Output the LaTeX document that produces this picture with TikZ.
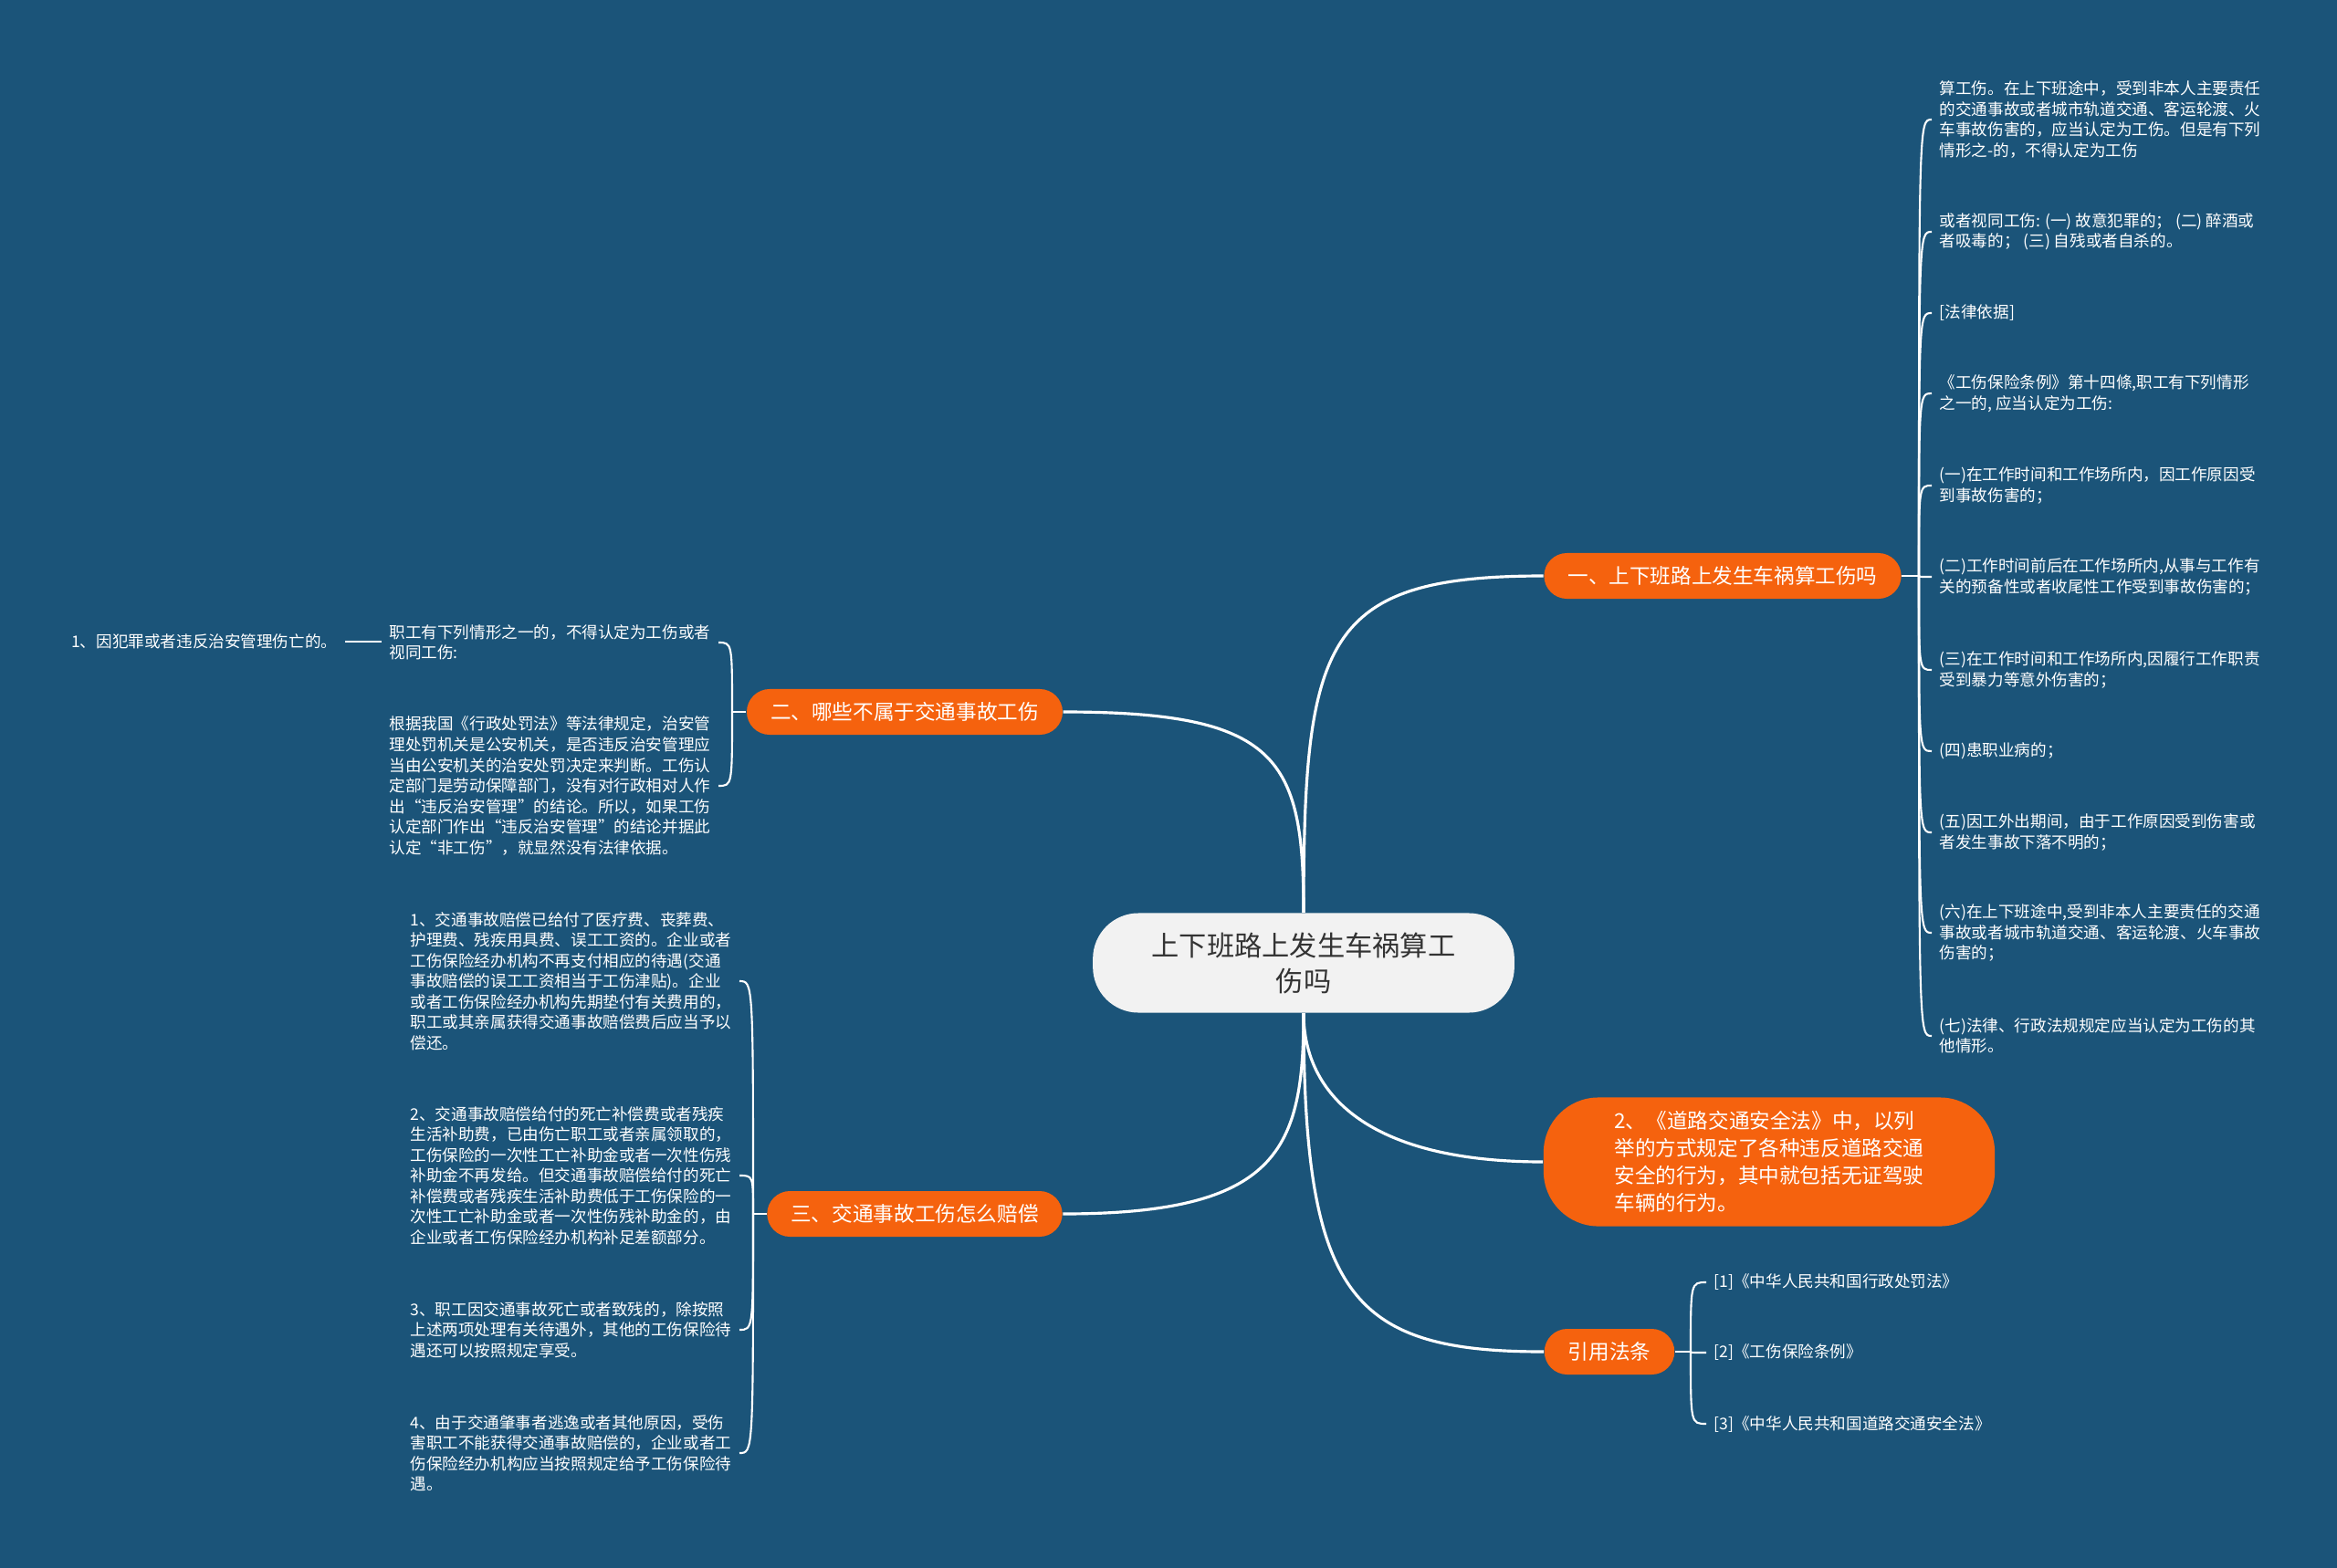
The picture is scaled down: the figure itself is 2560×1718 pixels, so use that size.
\documentclass[tikz,border=0pt]{standalone}
\usepackage{fontspec}
\newfontfamily\cjk{Noto Sans CJK SC}
\definecolor{bg}{RGB}{27,84,121}
\definecolor{org}{RGB}{245,98,14}
\definecolor{cent}{RGB}{242,242,242}
\definecolor{ctext}{RGB}{51,51,51}
\begin{document}
\begin{tikzpicture}[x=0.01cm,y=-0.01cm,
  leaf/.style={font=\cjk\fontsize{5pt}{6.4pt}\selectfont, text=white, align=left, inner xsep=0.08cm, inner ysep=0.02cm},
  br/.style={fill=org, text=white, font=\cjk\fontsize{6.43pt}{8.5pt}\selectfont, rounded corners=0.25cm, minimum height=0.5cm, inner xsep=0.26cm, inner ysep=0.02cm},
  conn/.style={draw=white, line width=0.9pt},
  sub/.style={draw=white, line width=0.6pt}]
\useasboundingbox (0,0) rectangle (2560,1718);
\fill[bg] (0,0) rectangle (2560,1718);

% center
\node[fill=cent, text=ctext, font=\cjk\fontsize{8.6pt}{11.1pt}\selectfont, align=center,
  rounded corners=0.5cm, minimum height=1.09cm, inner xsep=0.645cm] (c) at (1428,1055)
  {上下班路上发生车祸算工\\伤吗};

% branches
\node[br] (b1) at (1887,631) {一、上下班路上发生车祸算工伤吗};
\node[br] (b2) at (991,780) {二、哪些不属于交通事故工伤};
\node[br] (b3) at (1002,1330) {三、交通事故工伤怎么赔偿};
\node[br, align=left, rounded corners=0.6cm, minimum height=1.41cm, inner xsep=0.775cm] (b4) at (1938,1273)
  {2、《道路交通安全法》中，以列\\举的方式规定了各种违反道路交通\\安全的行为，其中就包括无证驾驶\\车辆的行为。};
\node[br] (b5) at (1763,1481) {引用法条};

\draw[conn] (c.north) .. controls (1428,700) and (1450,631) .. (b1.west);
\draw[conn] (c.north) .. controls (1428,830) and (1400,780) .. (b2.east);
\draw[conn] (c.south) .. controls (1428,1260) and (1400,1330) .. (b3.east);
\draw[conn] (c.south) .. controls (1428,1200) and (1500,1273) .. (b4.west);
\draw[conn] (c.south) .. controls (1428,1420) and (1480,1481) .. (b5.west);

% branch 1 leaves
\node[leaf, anchor=west] (r1) at (2116,131) {算工伤。在上下班途中，受到非本人主要责任\\的交通事故或者城市轨道交通、客运轮渡、火\\车事故伤害的，应当认定为工伤。但是有下列\\情形之-的，不得认定为工伤};
\node[leaf, anchor=west] (r2) at (2116,254) {或者视同工伤: (一) 故意犯罪的； (二) 醉酒或\\者吸毒的； (三) 自残或者自杀的。};
\node[leaf, anchor=west] (r3) at (2116,343) {[法律依据]};
\node[leaf, anchor=west] (r4) at (2116,431) {《工伤保险条例》第十四條,职工有下列情形\\之一的, 应当认定为工伤:};
\node[leaf, anchor=west] (r5) at (2116,532) {(一)在工作时间和工作场所内，因工作原因受\\到事故伤害的；};
\node[leaf, anchor=west] (r6) at (2116,632) {(二)工作时间前后在工作场所内,从事与工作有\\关的预备性或者收尾性工作受到事故伤害的；};
\node[leaf, anchor=west] (r7) at (2116,734) {(三)在工作时间和工作场所内,因履行工作职责\\受到暴力等意外伤害的；};
\node[leaf, anchor=west] (r8) at (2116,823) {(四)患职业病的；};
\node[leaf, anchor=west] (r9) at (2116,912) {(五)因工外出期间，由于工作原因受到伤害或\\者发生事故下落不明的；};
\node[leaf, anchor=west] (r10) at (2116,1022) {(六)在上下班途中,受到非本人主要责任的交通\\事故或者城市轨道交通、客运轮渡、火车事故\\伤害的；};
\node[leaf, anchor=west] (r11) at (2116,1135) {(七)法律、行政法规规定应当认定为工伤的其\\他情形。};
\coordinate (j1) at (2102,631);
\draw[sub] (b1.east) -- (j1);
\foreach \n in {r1,r2,r3,r4,r5,r6,r7,r8,r9,r10,r11}
  \draw[sub] (j1) .. controls (j1 |- \n.west) .. (\n.west);

% branch 2 leaves
\node[leaf, anchor=east] (s1) at (787,704) {职工有下列情形之一的，不得认定为工伤或者\\视同工伤:};
\node[leaf, anchor=east] (s2) at (787,861) {根据我国《行政处罚法》等法律规定，治安管\\理处罚机关是公安机关，是否违反治安管理应\\当由公安机关的治安处罚决定来判断。工伤认\\定部门是劳动保障部门，没有对行政相对人作\\出“违反治安管理”的结论。所以，如果工伤\\认定部门作出“违反治安管理”的结论并据此\\认定“非工伤”，就显然没有法律依据。};
\node[leaf, anchor=east] (s0) at (378,703) {1、因犯罪或者违反治安管理伤亡的。};
\coordinate (j2) at (802,780);
\draw[sub] (b2.west) -- (j2);
\foreach \n in {s1,s2}
  \draw[sub] (j2) .. controls (j2 |- \n.east) .. (\n.east);
\draw[sub] (s1.west |- s0.east) -- (s0.east);

% branch 3 leaves
\node[leaf, anchor=east] (t1) at (810,1075) {1、交通事故赔偿已给付了医疗费、丧葬费、\\护理费、残疾用具费、误工工资的。企业或者\\工伤保险经办机构不再支付相应的待遇(交通\\事故赔偿的误工工资相当于工伤津贴)。企业\\或者工伤保险经办机构先期垫付有关费用的，\\职工或其亲属获得交通事故赔偿费后应当予以\\偿还。};
\node[leaf, anchor=east] (t2) at (810,1288) {2、交通事故赔偿给付的死亡补偿费或者残疾\\生活补助费，已由伤亡职工或者亲属领取的，\\工伤保险的一次性工亡补助金或者一次性伤残\\补助金不再发给。但交通事故赔偿给付的死亡\\补偿费或者残疾生活补助费低于工伤保险的一\\次性工亡补助金或者一次性伤残补助金的，由\\企业或者工伤保险经办机构补足差额部分。};
\node[leaf, anchor=east] (t3) at (810,1457) {3、职工因交通事故死亡或者致残的，除按照\\上述两项处理有关待遇外，其他的工伤保险待\\遇还可以按照规定享受。};
\node[leaf, anchor=east] (t4) at (810,1592) {4、由于交通肇事者逃逸或者其他原因，受伤\\害职工不能获得交通事故赔偿的，企业或者工\\伤保险经办机构应当按照规定给予工伤保险待\\遇。};
\coordinate (j3) at (825,1330);
\draw[sub] (b3.west) -- (j3);
\foreach \n in {t1,t2,t3,t4}
  \draw[sub] (j3) .. controls (j3 |- \n.east) .. (\n.east);

% branch 5 leaves
\node[leaf, anchor=west] (u1) at (1869,1405) {[1]《中华人民共和国行政处罚法》};
\node[leaf, anchor=west] (u2) at (1869,1482) {[2]《工伤保险条例》};
\node[leaf, anchor=west] (u3) at (1869,1560) {[3]《中华人民共和国道路交通安全法》};
\coordinate (j5) at (1852,1481);
\draw[sub] (b5.east) -- (j5);
\foreach \n in {u1,u2,u3}
  \draw[sub] (j5) .. controls (j5 |- \n.west) .. (\n.west);
\end{tikzpicture}
\end{document}
